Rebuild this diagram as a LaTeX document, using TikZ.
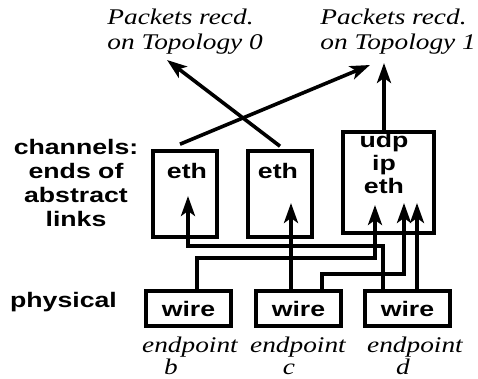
\documentclass[tikz,border=0pt]{standalone}
\usepackage{graphicx}
\usepackage{fontspec}
\setmainfont{Liberation Serif}
\newfontfamily\labelfont{Liberation Sans}
\usepackage{tikz}
\usetikzlibrary{positioning,calc,arrows.meta}
% the original lettering is drawn wider than the fonts are
\newcommand{\wideS}[1]{\scalebox{1.27}[1]{#1}}
\newcommand{\wideN}[1]{\scalebox{1.22}[1]{#1}}

\begin{document}
\begin{tikzpicture}[x=0.5pt, y=-0.5pt,
  boxline/.style={draw, line width=1.8pt, inner sep=0pt},
  chanbox/.style={boxline, minimum width=32pt, minimum height=43pt},
  wirebox/.style={boxline, minimum width=42.5pt, minimum height=17.5pt,
    font=\labelfont\bfseries\fontsize{10.5}{12}\selectfont},
  lbl/.style={font=\labelfont\bfseries\fontsize{10.5}{12}\selectfont, inner sep=0pt},
  note/.style={font=\rmfamily\itshape\fontsize{11.2}{12.5}\selectfont, inner sep=0pt},
  cable/.style={line width=1.8pt},
  feed/.style={cable, -{Stealth[length=10pt, width=7pt, inset=2.5pt]}},
]
\useasboundingbox (0,0) rectangle (478,379);

% channel boxes (ends of abstract links)
\node[chanbox] (chA) at (185,194) {};
\node[chanbox] (chB) at (280,194) {};
\node[chanbox, minimum width=45.5pt, minimum height=50.5pt] (chU) at (388.5,182.5) {};
\node[lbl, anchor=base] (ethA) at (187,179) {\wideS{eth}};
\node[lbl, anchor=base] (ethB) at (278,179) {\wideS{eth}};
\node[lbl, anchor=base, align=center, font=\labelfont\bfseries\fontsize{10.5}{11.5}\selectfont]
  (stackU) at (384,194) {\wideS{udp}\\\wideS{ip}\\\wideS{eth}};

% physical wires
\foreach \id/\x in {wb/188.5, wc/298.5, wd/407.5}
  \node[wirebox] (\id) at (\x,308.5) {\wideS{wire}};

% side labels
\node[lbl, align=center, anchor=base] (chanlbl) at (76,227)
  {\wideS{channels:}\\\wideS{ends of}\\\wideS{abstract}\\\wideS{links}};
\node[lbl, anchor=base] (physlbl) at (63.5,308) {\wideS{physical}};

% endpoint names
\foreach \id/\x/\xl/\l in {b/190/171/b, c/298/289/c, d/415/403/d} {
  \node[note, anchor=base] (ep\id) at (\x,353) {\wideN{endpoint}};
  \node[note, anchor=base] (ep\id l) at (\xl,375) {\wideN{\l}};
}

% receivers
\node[note, align=left, anchor=base west] (topo0) at (107,50)
  {\wideN{Packets recd.}\\\wideN{on Topology 0}};
\node[note, align=left, anchor=base west] (topo1) at (320,50)
  {\wideN{Packets recd.}\\\wideN{on Topology 1}};
\coordinate (rx0) at (167,60);
\coordinate (rx1a) at (370,65);
\coordinate (rx1b) at (384,63);

% arrow tips inside the channel boxes
\coordinate (inA) at (188,196);
\coordinate (inB) at (291,203);
\coordinate (inU1) at (375,205);
\coordinate (inU2) at (404,203);
\coordinate (inU3) at (417,203);

% taps on the wire boxes
\coordinate (tb) at ($(wb.north)+(8.5,0)$);
\coordinate (tc1) at ($(wc.north)+(-7.5,0)$);
\coordinate (tc2) at ($(wc.north)+(23.5,0)$);
\coordinate (td1) at ($(wd.north)+(-24.5,0)$);
\coordinate (td2) at ($(wd.north)+(9.5,0)$);

\draw[feed] (td1) -- ++(0,-43) -| (inA);
\draw[feed] (tb) -- ++(0,-31) -| (inU1);
\draw[feed] (tc1) -- (inB);
\draw[feed] (tc2) -- ++(0,-15) -| (inU2);
\draw[feed] (td2) -- (inU3);

% up to the receivers
\draw[feed] ($(chA.north)+(-5,-5)$) -- (rx1a);
\draw[feed] ($(chB.north)+(0,-3)$) -- (rx0);
\draw[feed] ($(chU.north)+(-4.5,0)$) -- (rx1b);
\end{tikzpicture}
\end{document}
